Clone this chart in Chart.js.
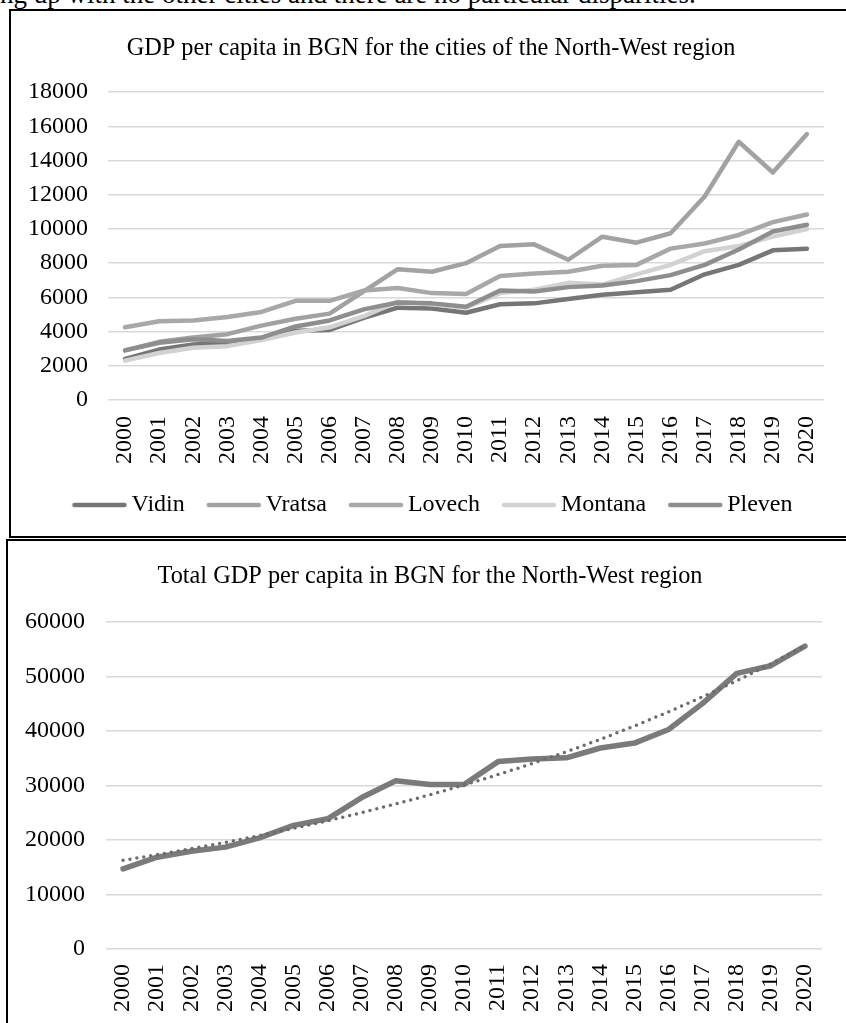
<!DOCTYPE html>
<html>
<head>
<meta charset="utf-8">
<script src="https://cdn.jsdelivr.net/npm/chart.js@4.4.1/dist/chart.umd.min.js"></script>
<style>
  html, body { margin: 0; padding: 0; background: #fff; overflow: hidden; width: 846px; height: 1023px; position: relative; }
  .para { position: absolute; left: 0; top: -21px; font: 27px "Liberation Serif", "Times New Roman", serif; white-space: nowrap; color: #000; }
  .box { position: absolute; border: 2px solid #000; box-sizing: border-box; background: #fff; }
  canvas { position: absolute; left: 0; }
</style>
</head>
<body>
<div class="para">ng up with the other cities and there are no particular disparities.</div>
<div class="box" style="left:9px;top:9px;width:900px;height:529px;"></div>
<div class="box" style="left:6px;top:539px;width:900px;height:600px;"></div>
<canvas id="cities" width="846" height="542" style="top:10px"></canvas>
<canvas id="total" width="846" height="483" style="top:540px"></canvas>
<script>
const years = ['2000', '2001', '2002', '2003', '2004', '2005', '2006', '2007', '2008', '2009', '2010',
  '2011', '2012', '2013', '2014', '2015', '2016', '2017', '2018', '2019', '2020'];

const vidin   = [2400, 2950, 3250, 3350, 3550, 4050, 4100, 4800, 5400, 5350, 5100, 5600, 5650, 5900, 6150, 6300, 6450, 7350, 7900, 8750, 8850];
const vratsa  = [2900, 3400, 3650, 3850, 4350, 4750, 5050, 6350, 7650, 7500, 8000, 9000, 9100, 8200, 9550, 9200, 9750, 11900, 15100, 13300, 15550];
const lovech  = [4250, 4600, 4650, 4850, 5150, 5800, 5800, 6400, 6550, 6250, 6200, 7250, 7400, 7500, 7850, 7900, 8850, 9150, 9650, 10400, 10850];
const montana = [2300, 2750, 3050, 3150, 3500, 3950, 4250, 4900, 5750, 5600, 5400, 6250, 6450, 6850, 6750, 7350, 7900, 8700, 9000, 9550, 10000];
const pleven  = [2900, 3350, 3550, 3450, 3650, 4300, 4650, 5300, 5700, 5650, 5450, 6400, 6350, 6600, 6700, 6950, 7300, 7900, 8800, 9850, 10250];

const totalNW = [14700, 16850, 17950, 18700, 20400, 22700, 23900, 27800, 30900, 30200, 30200, 34400, 34900, 35100, 36900, 37800, 40300, 45100, 50600, 52000, 55600];

const cityNames = ['Vidin', 'Vratsa', 'Lovech', 'Montana', 'Pleven'];
const cityColors = ['#767676', '#a2a2a2', '#a8a8a8', '#d2d2d2', '#8e8e8e'];

const serif = '"Liberation Serif", "Times New Roman", serif';
Chart.defaults.font.family = serif;
Chart.defaults.color = '#000';

// exponential trendline (least squares on ln y), like the spreadsheet one
function expTrend(values) {
  const n = values.length;
  let sx = 0, sy = 0, sxx = 0, sxy = 0;
  values.forEach(function (v, i) {
    const ly = Math.log(v);
    sx += i; sy += ly; sxx += i * i; sxy += i * ly;
  });
  const b = (n * sxy - sx * sy) / (n * sxx - sx * sx);
  const a = (sy - b * sx) / n;
  return values.map(function (v, i) { return Math.exp(a + b * i); });
}

// short thick line used as legend marker
function swatch(color) {
  const c = document.createElement('canvas');
  c.width = 56; c.height = 6;
  const g = c.getContext('2d');
  g.strokeStyle = color; g.lineWidth = 4.5; g.lineCap = 'round';
  g.beginPath(); g.moveTo(3, 3); g.lineTo(53, 3); g.stroke();
  return c;
}
const swatches = cityColors.map(swatch);

const citySeries = [vidin, vratsa, lovech, montana, pleven];
const cityDatasets = citySeries.map(function (values, i) {
  return {
    label: cityNames[i],
    data: values,
    borderColor: cityColors[i],
    backgroundColor: cityColors[i],
    borderWidth: 4.5,
    borderCapStyle: 'round',
    borderJoinStyle: 'round',
    pointRadius: 0,
    tension: 0,
    order: 5 - i
  };
});

const tickFont = { family: serif, size: 24 };
const titleFont = { family: serif, size: 24.3, weight: 'normal' };
const plainNumber = function (v) { return String(v); };

// title and legend sit a bit right of the canvas centre in the original
function shiftBoxes(titleDx, legendDx) {
  return {
    id: 'shiftBoxes',
    afterLayout: function (chart) {
      chart.titleBlock.left += titleDx;
      chart.titleBlock.right += titleDx;
      if (legendDx) {
        chart.legend.left += legendDx;
        chart.legend.right += legendDx;
      }
    }
  };
}

new Chart(document.getElementById('cities'), {
  type: 'line',
  data: { labels: years, datasets: cityDatasets },
  plugins: [shiftBoxes(19, 24)],
  options: {
    responsive: false,
    animation: false,
    layout: { padding: { left: 0, right: 22, top: 0, bottom: 25 } },
    plugins: {
      title: {
        display: true,
        text: 'GDP per capita in BGN for the cities of the North-West region',
        color: '#000',
        font: titleFont,
        padding: { top: 24.4, bottom: 28.6 }
      },
      legend: {
        position: 'bottom',
        labels: {
          color: '#000',
          font: { family: serif, size: 24 },
          usePointStyle: true,
          pointStyleWidth: 40,
          padding: 29,
          generateLabels: function (chart) {
            return Chart.defaults.plugins.legend.labels.generateLabels(chart)
              .map(function (item) { item.pointStyle = swatches[item.datasetIndex]; return item; })
              .sort(function (a, b) { return a.datasetIndex - b.datasetIndex; });
          }
        }
      },
      tooltip: { enabled: false }
    },
    scales: {
      x: {
        offset: true,
        grid: { display: false },
        border: { display: false },
        ticks: { minRotation: 90, maxRotation: 90, padding: 8, color: '#000', font: tickFont },
        afterFit: function (s) { s.height = 64; }
      },
      y: {
        min: 0, max: 18000,
        ticks: { stepSize: 2000, padding: 20, color: '#000', font: tickFont, callback: plainNumber },
        grid: { color: '#d9d9d9', lineWidth: 1.5, drawTicks: false },
        border: { display: false },
        afterFit: function (s) { s.width = 108; }
      }
    }
  }
});

new Chart(document.getElementById('total'), {
  type: 'line',
  data: {
    labels: years,
    datasets: [
      {
        label: 'Total',
        data: totalNW,
        borderColor: '#7a7a7a',
        borderWidth: 5.5,
        borderCapStyle: 'round',
        borderJoinStyle: 'round',
        pointRadius: 0,
        tension: 0,
        order: 1
      },
      {
        label: 'Expon. (Total)',
        data: expTrend(totalNW),
        borderColor: '#6c6c6c',
        borderWidth: 3.5,
        borderDash: [0, 7],
        borderCapStyle: 'round',
        pointRadius: 0,
        tension: 0,
        order: 0
      }
    ]
  },
  plugins: [shiftBoxes(19, 0)],
  options: {
    responsive: false,
    animation: false,
    layout: { padding: { left: 0, right: 24, top: 0, bottom: 0 } },
    plugins: {
      title: {
        display: true,
        text: 'Total GDP per capita in BGN for the North-West region',
        color: '#000',
        font: titleFont,
        padding: { top: 22.4, bottom: 30.6 }
      },
      legend: { display: false },
      tooltip: { enabled: false }
    },
    scales: {
      x: {
        offset: true,
        grid: { display: false },
        border: { display: false },
        ticks: { minRotation: 90, maxRotation: 90, padding: 7, color: '#000', font: tickFont },
        afterFit: function (s) { s.height = 74; }
      },
      y: {
        min: 0, max: 60000,
        ticks: { stepSize: 10000, padding: 21, color: '#000', font: tickFont, callback: plainNumber },
        grid: { color: '#d9d9d9', lineWidth: 1.5, drawTicks: false },
        border: { display: false },
        afterFit: function (s) { s.width = 106; }
      }
    }
  }
});
</script>
</body>
</html>
